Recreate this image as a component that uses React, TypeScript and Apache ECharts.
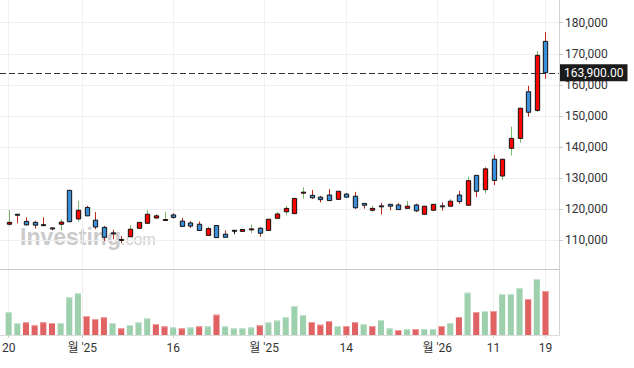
import React, { useEffect, useRef } from 'react';
import * as echarts from 'echarts';

// Daily OHLC (KRW), 63 trading days
const opens = [
  115200, 118300, 116100, 115800, 115000, 113900, 115200, 126100, 116900, 120600,
  116500, 114200, 112300, 110200, 111200, 113900, 115500, 117200, 116500, 118200,
  116200, 115600, 115200, 111600, 114800, 112000, 113100, 112900, 113500, 113900,
  113200, 117100, 119200, 118600, 125300, 124500, 123900, 124600, 123200, 124900,
  124200, 121900, 119700, 121000, 121600, 121400, 120300, 121400, 118400, 119700,
  121000, 121000, 124600, 121300, 130900, 126300, 136100, 130700, 139600, 142800,
  157800, 151800, 174000,
];
const highs = [
  119800, 118500, 117400, 116300, 117400, 114300, 116800, 126200, 122700, 121100,
  119100, 114600, 113400, 111400, 115000, 115900, 119800, 118500, 119200, 118700,
  117200, 116200, 116100, 114400, 114900, 113200, 113100, 113500, 115100, 114300,
  116800, 119100, 121100, 123700, 127100, 126200, 124300, 126500, 125800, 125200,
  125600, 121900, 121100, 122100, 121600, 122000, 122700, 121800, 121000, 121600,
  122200, 123300, 125900, 130500, 130900, 133700, 137500, 136100, 146600, 152500,
  159700, 170900, 177000,
];
const lows = [
  114700, 115500, 114800, 113800, 114600, 113200, 113200, 115900, 116000, 117800,
  113600, 109800, 110400, 109100, 111200, 113900, 115500, 116800, 116400, 117000,
  114500, 114000, 113200, 111600, 110900, 111000, 112000, 112900, 112300, 111200,
  113200, 117100, 118000, 118500, 123400, 123300, 122200, 122800, 123200, 123900,
  120100, 120200, 119200, 118300, 119700, 119900, 120300, 119100, 118400, 119700,
  119600, 121000, 121800, 121300, 123900, 125100, 127800, 129400, 137300, 141400,
  149800, 151300, 162000,
];
const closes = [
  115800, 118200, 115000, 114900, 114800, 113800, 115900, 116000, 119700, 117900,
  114300, 111000, 112200, 110100, 113600, 115800, 118400, 117900, 116600, 117400,
  114500, 114600, 113200, 113800, 110900, 111000, 113100, 113500, 113600, 112300,
  116800, 118500, 120300, 123500, 125400, 123700, 123100, 122800, 125800, 123900,
  120500, 121300, 120300, 120900, 121000, 119900, 121000, 119500, 121000, 121600,
  120900, 122600, 122500, 129200, 125800, 133000, 129300, 136100, 142800, 152500,
  151200, 169500, 163900,
];
// Volume (thousand shares)
const volumes = [
  454, 234, 254, 194, 254, 240, 240, 754, 834, 380,
  320, 354, 240, 134, 200, 254, 334, 220, 174, 154,
  134, 154, 174, 174, 406, 174, 134, 134, 154, 194,
  254, 290, 354, 580, 400, 260, 206, 280, 180, 180,
  260, 220, 180, 300, 134, 100, 120, 120, 120, 120,
  180, 240, 360, 846, 460, 480, 480, 820, 820, 940,
  720, 1120, 880,
];
const dateTickIndex = [0, 8.5, 19, 29.5, 39, 49.5, 56, 62];
const dateTickLabels = ['20', "월 '25", '16', "월 '25", '14', "월 '26", '11', '19'];
const priceTicks = [110000, 120000, 130000, 140000, 150000, 160000, 170000, 180000];
const lastPrice = 163900;

const FONT = 'Roboto, "Noto Sans CJK KR", sans-serif';
const BODY_UP = '#ff0000';
const BODY_DOWN = '#3b8fd8';
const WICK_UP = '#7ab86a';
const WICK_DOWN = '#c0281c';
const VOL_UP = '#9dd1ae';
const VOL_UP_CAP = '#c6e5d0';
const VOL_DOWN = '#e06262';
const VOL_DOWN_CAP = '#f0a0a0';
const X_MIN = -1;
const X_MAX = 63.56;

export default function App() {
  const ref = useRef<HTMLDivElement>(null);
  useEffect(() => {
    if (!ref.current) return;
    const chart = echarts.init(ref.current, null, { renderer: 'svg' });
    const candleData = opens.map((o, i) => [i, o, closes[i], lows[i], highs[i]]);
    const volData = volumes.map((v, i) => [i, v]);
    const labelFor = (v: number) => {
      const k = dateTickIndex.findIndex((t) => Math.abs(t - v) < 0.01);
      return k >= 0 ? dateTickLabels[k] : '';
    };
    chart.setOption({
      animation: false,
      grid: [
        { left: 0, right: 75, top: -8.4, height: 279.9, outerBoundsMode: 'none' },
        { left: 0, right: 75, top: 269.3, height: 65.7, outerBoundsMode: 'none' },
      ],
      xAxis: [
        {
          gridIndex: 0, type: 'value', min: X_MIN, max: X_MAX,
          axisLine: { show: false, onZero: false },
          axisTick: { show: false, customValues: dateTickIndex },
          axisLabel: { show: false, customValues: dateTickIndex },
          splitLine: { show: true, lineStyle: { color: '#efefef', width: 1 } },
        },
        {
          gridIndex: 1, type: 'value', min: X_MIN, max: X_MAX, position: 'bottom',
          axisLine: { show: true, onZero: false, lineStyle: { color: '#dcdcdc' } },
          axisTick: { show: true, length: 3, customValues: dateTickIndex, lineStyle: { color: '#cfcfcf' } },
          axisLabel: {
            show: true, customValues: dateTickIndex, formatter: (v: number) => labelFor(v),
            color: '#333', fontSize: 12, fontFamily: FONT, margin: 7,
          },
          splitLine: { show: true, lineStyle: { color: '#efefef', width: 1 } },
        },
        {
          gridIndex: 1, type: 'value', min: X_MIN, max: X_MAX, position: 'top',
          axisLine: { show: true, onZero: false, lineStyle: { color: '#c8c8c8' } },
          axisTick: { show: false }, axisLabel: { show: false }, splitLine: { show: false },
        },
      ],
      yAxis: [
        {
          gridIndex: 0, type: 'value', position: 'right', min: 100000, max: 190000, interval: 10000,
          axisLine: { show: true, onZero: false, lineStyle: { color: '#d4d4d8' } },
          axisTick: { show: true, length: 4, customValues: priceTicks, lineStyle: { color: '#c8c8c8' } },
          axisLabel: {
            show: true, customValues: priceTicks, margin: 6, color: '#333', fontSize: 12, fontFamily: FONT,
            formatter: (v: number) => v.toLocaleString('en-US'),
          },
          splitLine: { show: true, lineStyle: { color: '#efefef', width: 1 } },
        },
        {
          gridIndex: 1, type: 'value', position: 'right', min: 0, max: 1314,
          axisLine: { show: true, onZero: false, lineStyle: { color: '#d4d4d8' } },
          axisTick: { show: false }, axisLabel: { show: false }, splitLine: { show: false },
        },
      ],
      graphic: [
        {
          type: 'text', x: 20, y: 237, z: 0, silent: true,
          style: { text: 'Investing', font: 'bold 23px "Liberation Sans", Arial, sans-serif', fill: '#cbcbcb', verticalAlign: 'middle' },
        },
        {
          type: 'text', x: 121, y: 239, z: 0, silent: true,
          style: { text: '.com', font: '16px "Liberation Sans", Arial, sans-serif', fill: '#d2d2d2', verticalAlign: 'middle' },
        },
      ],
      series: [
        {
          type: 'custom',
          name: 'price',
          xAxisIndex: 0, yAxisIndex: 0,
          data: candleData,
          encode: { x: 0, y: [1, 2, 3, 4] },
          renderItem: (params: any, api: any) => {
            const i = api.value(0);
            const o = api.value(1), c = api.value(2), l = api.value(3), h = api.value(4);
            const pO = api.coord([i, o]);
            const pC = api.coord([i, c]);
            const pH = api.coord([i, h]);
            const pL = api.coord([i, l]);
            const bw = api.size([1, 0])[0] * 0.5;
            const x = Math.round(pO[0]) + 0.5;
            let top = Math.min(pO[1], pC[1]);
            let bottom = Math.max(pO[1], pC[1]);
            if (bottom - top < 1) {
              const m = (top + bottom) / 2;
              top = m - 0.5;
              bottom = m + 0.5;
            }
            const wick = c > o ? WICK_UP : c < o ? WICK_DOWN : '#111';
            const fill = c > o ? BODY_UP : c < o ? BODY_DOWN : '#111';
            return {
              type: 'group',
              children: [
                { type: 'line', shape: { x1: x, y1: pH[1], x2: x, y2: pL[1] }, style: { stroke: wick, lineWidth: 1 } },
                { type: 'rect', shape: { x: x - bw / 2, y: top, width: bw, height: bottom - top }, style: { fill, stroke: '#111', lineWidth: 1 } },
              ],
            };
          },
          markLine: {
            silent: true,
            symbol: ['none', 'none'],
            lineStyle: { color: '#333', width: 1, type: [6, 3] },
            label: {
              show: true, position: 'end', distance: 1,
              formatter: lastPrice.toLocaleString('en-US', { minimumFractionDigits: 2 }),
              color: '#fff', backgroundColor: '#1b1b1b', padding: [2, 4, 1, 4],
              fontSize: 12, lineHeight: 14, fontFamily: FONT,
            },
            data: [{ yAxis: lastPrice }],
          },
        },
        {
          type: 'custom',
          name: 'volume',
          xAxisIndex: 1, yAxisIndex: 1,
          data: volData,
          encode: { x: 0, y: 1 },
          renderItem: (params: any, api: any) => {
            const i = api.value(0);
            const v = api.value(1);
            const p0 = api.coord([i, 0]);
            const p1 = api.coord([i, v]);
            const w = api.size([1, 0])[0] * 0.7;
            const up = i === 0 || closes[i] >= closes[i - 1];
            return {
              type: 'group',
              children: [
                { type: 'rect', shape: { x: p0[0] - w / 2, y: p1[1], width: w, height: p0[1] - p1[1] }, style: { fill: up ? VOL_UP : VOL_DOWN } },
                { type: 'rect', shape: { x: p0[0] - w / 2, y: p1[1], width: w, height: 1 }, style: { fill: up ? VOL_UP_CAP : VOL_DOWN_CAP } },
              ],
            };
          },
        },
      ],
    });
    return () => chart.dispose();
  }, []);
  return <div ref={ref} style={{ width: 634, height: 368, position: 'absolute', left: 0, top: 0 }} />;
}
